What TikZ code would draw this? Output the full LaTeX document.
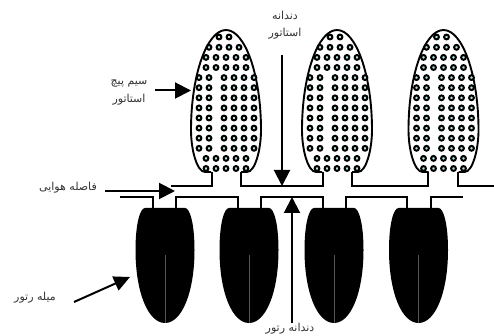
\documentclass[tikz,border=0pt]{standalone}
\usepackage{fontspec}
\usetikzlibrary{arrows.meta}
\TeXXeTstate=1
\newfontfamily\arabicfont[Script=Arabic]{DejaVu Sans}
\definecolor{wirecore}{HTML}{B4E4E4}
\definecolor{labelgrey}{HTML}{333333}
\definecolor{barline}{HTML}{555555}
\tikzset{
  x=1pt,y=-1pt,
  outline/.style={line width=1.9pt,black},
  wall/.style={line width=2pt,black,line join=miter},
  wire/.style={fill=wirecore,draw=black,line width=2pt},
  pointer/.style={line width=2pt,-{Triangle[length=16pt,width=16pt]}},
  pointerb/.style={line width=2pt,-{Triangle[length=16pt,width=15pt]}},
  lbl/.style={font=\arabicfont\fontsize{11}{12}\selectfont,text=labelgrey,inner sep=0pt,align=center},
}
\newcommand{\wirerow}[3]{% centre, y, offsets
  \foreach \dx in {#3} \filldraw[wire] (#1+\dx,#2) circle[radius=2.4pt];
}
\begin{document}
\begin{tikzpicture}
\useasboundingbox (0,0) rectangle (494,336);
% stator slots
\foreach \c in {226,337,443.5}{
  \draw[outline] (\c-15,172) -- (\c-21,172)
     .. controls (\c-29,172) and (\c-35,150) .. (\c-35,130)
     .. controls (\c-35,75) and (\c-19,30) .. (\c,30)
     .. controls (\c+19,30) and (\c+35,75) .. (\c+35,130)
     .. controls (\c+35,150) and (\c+29,172) .. (\c+21,172) -- (\c+15,172);
  \wirerow{\c}{37}{-7,3}
  \wirerow{\c}{47.3}{-17,-7,3,13}
  \wirerow{\c}{57.4}{-20,-10,0,10,20}
  \wirerow{\c}{67.5}{-20,-10,0,10,20}
  \foreach \r in {77.6,87.7,97.8,107.9,118,128.1,138.2,148.3}{
    \wirerow{\c}{\r}{-27,-17,-2,8,18,28}
  }
  \wirerow{\c}{158.4}{-20,-10,0,10,20}
  \wirerow{\c}{168.5}{-20,-10,0,10,20}
}
% stator bore line
\draw[wall] (171,186) -- (212,186) -- (212,172);
\draw[wall] (241,172) -- (241,186) -- (323,186) -- (323,172);
\draw[wall] (352,172) -- (352,186) -- (428,186) -- (428,172);
\draw[wall] (458,172) -- (458,186) -- (494,186);
% rotor bars
\foreach \c in {165,249,334,418.5}{
  \fill[black] (\c-20,208) -- (\c+20,208)
     .. controls (\c+25,208) and (\c+29.5,224) .. (\c+29.5,250)
     .. controls (\c+29.5,292) and (\c+17,323) .. (\c,323)
     .. controls (\c-17,323) and (\c-29.5,292) .. (\c-29.5,250)
     .. controls (\c-29.5,224) and (\c-25,208) .. (\c-20,208) -- cycle;
  \draw[barline,line width=0.4pt] (\c,255) -- (\c,323);
}
% rotor bore line
\draw[wall] (120,197) -- (153,197) -- (153,208);
\draw[wall] (176,208) -- (176,197) -- (238,197) -- (238,208);
\draw[wall] (261,208) -- (261,197) -- (323,197) -- (323,208);
\draw[wall] (346,208) -- (346,197) -- (407,197) -- (407,208);
\draw[wall] (431,208) -- (431,197) -- (463,197);
% labels
\node[lbl] (toothS1) at (285,15) {\beginR دندانه\endR};
\node[lbl] (toothS2) at (285,34) {\beginR استاتور\endR};
\node[lbl] (coil1) at (129,84) {\beginR سیم پیچ\endR};
\node[lbl] (coil2) at (129,100) {\beginR استاتور\endR};
\node[lbl] (gap) at (68,188) {\beginR فاصله هوایی\endR};
\node[lbl] (bar) at (35,298) {\beginR میله رتور\endR};
\node[lbl] (toothR) at (290,329) {\beginR دندانه رتور\endR};
% pointers
\coordinate (coilS) at (155,90.5);
\coordinate (coilT) at (191,90.5);
\coordinate (gapS) at (105,191);
\coordinate (gapT) at (175,191);
\coordinate (stS) at (282,55);
\coordinate (stT) at (282,186);
\coordinate (rtS) at (292,323);
\coordinate (rtT) at (292,197);
\coordinate (barS) at (74,302);
\coordinate (barT) at (130,277);
\draw[pointer] (coilS) -- (coilT);
\draw[pointer] (gapS) -- (gapT);
\draw[pointer] (stS) -- (stT);
\draw[pointer] (rtS) -- (rtT);
\draw[pointerb] (barS) -- (barT);
\end{tikzpicture}
\end{document}
